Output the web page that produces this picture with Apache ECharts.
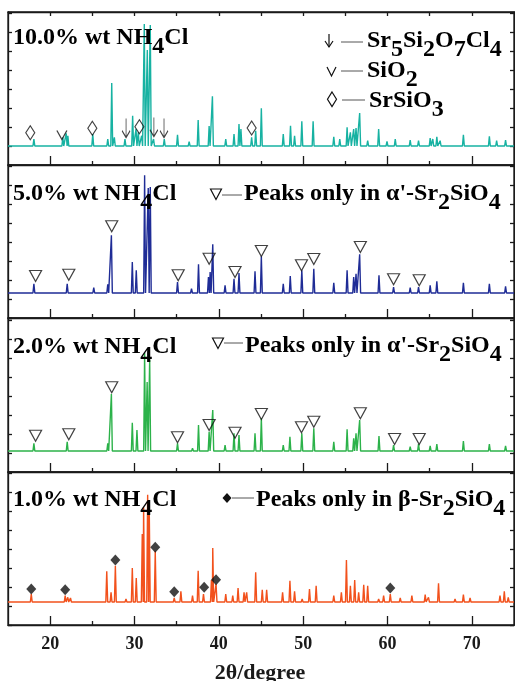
<!DOCTYPE html>
<html><head><meta charset="utf-8">
<script src="https://cdn.jsdelivr.net/npm/echarts@6/dist/echarts.min.js"></script>
<style>html,body{margin:0;padding:0;background:#fff}#c{width:515px;height:681px}</style>
</head><body><div id="c"></div>
<script>
// ===== data (2θ in degrees, intensity in a.u.) =====
const xMajorTicks = [20, 30, 40, 50, 60, 70];
const xMinorTicks = [25, 35, 45, 55, 65];
const xTopTicks = [20, 25, 30, 35, 40, 45, 50, 55, 60, 65, 70];
const sampleNames = ['10.0', '5.0', '2.0', '1.0'];
const baselines = [19, 25, 21, 23];

const peaks10 = [[18.07,26],[21.50,27.7],[21.90,31.7],[22.10,29.3],[25.05,31],[26.83,26],[27.30,82],[27.61,27.7],[28.87,26],[29.78,49.3],[30.18,36],[30.45,32.7],[30.85,29.3],[31.16,141],[31.52,115],[31.87,140],[32.26,26],[33.53,26],[35.10,30.3],[36.48,23.3],[37.55,45],[38.85,39],[39.24,68.7],[40.82,26],[41.80,31],[42.39,41],[42.62,36],[43.89,27.7],[44.37,34.3],[45.04,56.7],[47.64,31],[48.50,39.3],[48.98,29.3],[49.84,43.7],[51.18,43.7],[53.63,28.3],[54.34,26],[55.21,37.7],[55.60,32.7],[55.99,36],[56.27,37],[56.70,52],[57.65,24.3],[58.95,36],[59.94,23.7],[60.92,26],[62.69,25],[63.68,24.3],[65.06,27],[65.37,26],[65.85,28.3],[66.24,24.3],[69.00,30.3],[72.08,28.7],[72.94,24.3],[74.00,25]];
const peaks5 = [[18.07,34.3],[22.02,34.3],[24.38,27],[25.17,30.3],[26.83,33.7],[27.26,82.7],[29.74,56],[30.21,47.7],[31.20,142.7],[31.63,130],[31.87,131],[32.82,27],[33.84,27],[35.10,36],[36.76,29.3],[37.59,53.7],[38.77,41],[38.97,46],[39.28,73.7],[40.74,32.7],[41.80,39.3],[42.39,45],[44.29,46.7],[45.04,61.7],[47.64,34.3],[48.47,42],[49.84,47.7],[51.26,49.3],[53.63,35.3],[55.21,47.7],[55.99,41],[56.27,44.3],[56.70,63.7],[58.99,42.7],[60.72,31],[62.69,30.3],[63.68,31],[65.06,32.7],[65.85,36.7],[69.00,35.3],[72.08,34.3],[74.00,31.7]];
const peaks2 = [[18.07,28.7],[22.02,30.3],[24.38,22.7],[25.17,22],[26.83,28.7],[27.26,78],[29.74,49.3],[30.29,42],[31.20,119],[31.50,90],[31.80,112],[35.10,28.7],[36.88,23.7],[37.59,47],[38.85,40.3],[39.28,62],[40.74,27],[41.80,38.7],[42.39,37],[44.29,38.7],[45.04,53.7],[47.64,27],[48.43,35.3],[49.84,38.7],[51.26,43.7],[53.63,30.3],[55.21,42.7],[55.99,33.7],[56.27,38.7],[56.70,52],[58.99,36],[60.72,27],[62.69,25.3],[63.68,28],[65.06,26],[65.85,28],[69.00,31],[72.08,28],[74.00,26]];
const peaks1 = [[17.76,31],[21.78,29.3],[22.09,27.7],[22.41,27],[26.71,53.7],[27.22,32.7],[27.73,59.3],[28.99,26],[29.74,57],[30.21,47],[30.92,91],[31.08,117.7],[31.56,130.3],[31.75,116],[32.46,74.3],[34.71,27],[35.50,33.7],[36.88,29.3],[37.55,54.3],[38.18,31],[39.12,45],[39.28,77],[39.67,41],[40.82,31],[41.65,29.3],[42.28,37],[42.99,32.7],[43.30,32.7],[44.37,52.7],[45.15,35.3],[45.67,35.3],[47.56,32.7],[48.43,44.3],[48.98,33.7],[49.88,26],[50.75,36],[51.54,39.3],[53.63,29.3],[54.53,32.7],[55.13,65],[55.60,39.3],[56.11,45],[56.58,32.7],[57.18,40.3],[57.65,39.3],[58.95,26],[59.54,29.3],[60.33,31],[61.51,27],[62.89,29.3],[64.47,30.3],[64.86,27.7],[66.05,41.7],[68.01,26],[69.00,30.3],[69.79,27],[73.34,29.3],[73.85,33.7],[74.32,27.7]];

// phase markers [2θ, marker height]
const markSr5Si2O7Cl4 = [[29.0,37],[32.3,38],[33.5,37]];
const markSiO2 = [[21.39,30]];
const markSrSiO3 = [[17.64,32.3],[25.0,36.7],[30.58,38.3],[43.89,37]];
const markAlpha5 = [[18.27,42],[22.21,43.3],[27.3,91.7],[35.18,42.7],[38.85,59.3],[41.92,46],[45.04,67],[49.8,52.7],[51.26,59],[56.78,71],[60.72,38.7],[63.76,37.7]];
const markAlpha2 = [[18.27,36.3],[22.21,37.7],[27.3,84.7],[35.1,34.7],[38.85,47],[41.92,39.3],[45.04,58],[49.8,44.7],[51.26,50.3],[56.78,58.7],[60.84,33],[63.76,33]];
const markBeta1 = [[17.76,36],[21.78,35.3],[27.73,65],[32.46,77.7],[34.71,33.3],[38.26,37.7],[39.67,45.3],[60.33,37]];

// ===== build =====
const allPeaks = [peaks10, peaks5, peaks2, peaks1];
const colors = ['#17b2a2', '#1f2c96', '#2cb24a', '#f2511c'];
const tops = [12, 165, 318, 472];
const heights = [153, 153, 154, 153];
const ink = '#1a1a1a';
const font = "'Liberation Serif','Times New Roman',serif";
const HW = 0.11; // drawn half-width of each peak

function profile(peaks, base) {
  const pts = [[15, base]];
  peaks.forEach(p => { pts.push([p[0] - HW, base], [p[0], p[1]], [p[0] + HW, base]); });
  pts.push([75, base]);
  return pts;
}

const axLine = { lineStyle: { color: ink, width: 1.3 } };
const grid = tops.map((t, i) => ({ left: 8, right: 1, top: t, height: heights[i], show: true, borderColor: ink, borderWidth: 1.3, backgroundColor: 'transparent' }));
const xAxis = [];
const yAxis = [];
const seriesX = [];
tops.forEach((t, i) => {
  seriesX.push(xAxis.length);
  xAxis.push({ gridIndex: i, type: 'value', position: 'bottom', min: 15, max: 75, interval: 5,
    axisLine: { show: true, ...axLine }, splitLine: { show: false },
    axisTick: { show: true, inside: true, length: 9, customValues: xMajorTicks, lineStyle: { color: ink, width: 1.3 } },
    axisLabel: { show: i === 3, customValues: xMajorTicks, formatter: v => (v % 10 === 0 ? String(v) : ''), fontFamily: font, fontWeight: 'bold', fontSize: 18, color: ink, margin: 10 } });
  xAxis.push({ gridIndex: i, type: 'value', position: 'bottom', min: 15, max: 75, interval: 5,
    axisLine: { show: false }, splitLine: { show: false }, axisLabel: { show: false },
    axisTick: { show: true, inside: true, length: 4, customValues: xMinorTicks, lineStyle: { color: ink, width: 1.3 } } });
  if (i === 0) {
    xAxis.push({ gridIndex: i, type: 'value', position: 'top', min: 15, max: 75, interval: 5,
      axisLine: { show: true, ...axLine }, splitLine: { show: false }, axisLabel: { show: false },
      axisTick: { show: true, inside: true, length: 4, customValues: xTopTicks, lineStyle: { color: ink, width: 1.3 } } });
  }
  ['left', 'right'].forEach(pos => {
    yAxis.push({ gridIndex: i, type: 'value', position: pos, min: 0, max: heights[i], interval: 19,
      axisLine: { show: true, ...axLine }, splitLine: { show: false }, axisLabel: { show: false },
      axisTick: { show: true, inside: true, length: 4, lineStyle: { color: ink, width: 1.3 } } });
  });
});

const series = [];
allPeaks.forEach((pk, i) => {
  series.push({ type: 'line', xAxisIndex: seriesX[i], yAxisIndex: i * 2, data: profile(pk, baselines[i]),
    showSymbol: false, symbol: 'none', lineStyle: { color: colors[i], width: 1.4 }, z: 2 });
});
const openStyle = { color: 'rgba(0,0,0,0)', borderColor: '#111', borderWidth: 1.2 };
function marks(data, i, symbol, size, style, rot) {
  series.push({ type: 'scatter', xAxisIndex: seriesX[i], yAxisIndex: i * 2, data, symbol, symbolSize: size,
    symbolRotate: rot || 0, itemStyle: style, z: 5, silent: true });
}
marks(markSr5Si2O7Cl4, 0, 'path://M5,0 L5,20 M0,13 L5,20 L10,13', [8, 19], openStyle);
marks(markSiO2, 0, 'path://M0,0 L5,9 L10,0', [10, 9], openStyle);
marks(markSrSiO3, 0, 'diamond', [9, 14], openStyle);
marks(markAlpha5, 1, 'path://M0,0 L12,0 L6,11 Z', [12, 11], openStyle);
marks(markAlpha2, 2, 'path://M0,0 L12,0 L6,11 Z', [12, 11], openStyle);
marks(markBeta1, 3, 'diamond', [10, 11], { color: '#111' });

const rich = {
  a: { fontFamily: font, fontWeight: 'bold', fontSize: 24, lineHeight: 24, color: ink, verticalAlign: 'middle' },
  s: { fontFamily: font, fontWeight: 'bold', fontSize: 24, lineHeight: 24, color: ink, verticalAlign: 'middle', padding: [18, 0, 0, 0] }
};
function rtext(x, capCenter, text) {
  return { type: 'text', x: x, y: capCenter - 10, z: 10, style: { text, rich, verticalAlign: 'top', align: 'left' } };
}
const labelCenters = [36, 192, 344.5, 498];
const graphic = [];
sampleNames.forEach((n, i) => graphic.push(rtext(13, labelCenters[i], `{a|${n}% wt NH}{s|4}{a|Cl}`)));
graphic.push(rtext(367, 39, '{a|Sr}{s|5}{a|Si}{s|2}{a|O}{s|7}{a|Cl}{s|4}'));
graphic.push(rtext(367, 69, '{a|SiO}{s|2}'));
graphic.push(rtext(369, 98.5, '{a|SrSiO}{s|3}'));
graphic.push(rtext(244, 192, "{a|Peaks only in α'-Sr}{s|2}{a|SiO}{s|4}"));
graphic.push(rtext(245, 343.5, "{a|Peaks only in α'-Sr}{s|2}{a|SiO}{s|4}"));
graphic.push(rtext(256, 497.5, '{a|Peaks only in β-Sr}{s|2}{a|SiO}{s|4}'));
const sym = { stroke: '#111', lineWidth: 1.2, fill: null };
const dash = { stroke: '#555', lineWidth: 1 };
graphic.push(
  { type: 'polyline', shape: { points: [[329, 34], [329, 47]] }, style: sym },
  { type: 'polyline', shape: { points: [[325, 41], [329, 47], [333, 41]] }, style: sym },
  { type: 'polyline', shape: { points: [[327, 67], [331.5, 76], [336, 67]] }, style: sym },
  { type: 'polygon', shape: { points: [[332, 92], [336.5, 99.2], [332, 106.5], [327.5, 99.2]] }, style: sym },
  { type: 'line', shape: { x1: 341, y1: 42, x2: 363, y2: 42 }, style: dash },
  { type: 'line', shape: { x1: 341, y1: 71, x2: 363, y2: 71 }, style: dash },
  { type: 'line', shape: { x1: 342, y1: 100, x2: 365, y2: 100 }, style: dash },
  { type: 'polygon', shape: { points: [[210.5, 189], [221.5, 189], [216, 199.5]] }, style: sym },
  { type: 'line', shape: { x1: 222, y1: 195, x2: 242, y2: 195 }, style: dash },
  { type: 'polygon', shape: { points: [[212.5, 338], [223.5, 338], [218, 348.5]] }, style: sym },
  { type: 'line', shape: { x1: 224, y1: 343, x2: 243, y2: 343 }, style: dash },
  { type: 'polygon', shape: { points: [[227, 493], [231.5, 498], [227, 503], [222.5, 498]] }, style: { fill: '#111' } },
  { type: 'line', shape: { x1: 232, y1: 498, x2: 254, y2: 498 }, style: dash },
  { type: 'text', x: 260, y: 673, style: { text: '2θ/degree', fontFamily: font, fontWeight: 'bold', fontSize: 22, fill: ink, align: 'center', verticalAlign: 'middle' } }
);

const chart = echarts.init(document.getElementById('c'), null, { renderer: 'canvas' });
chart.setOption({ animation: false, backgroundColor: '#fff', grid, xAxis, yAxis, series, graphic });
</script></body></html>
